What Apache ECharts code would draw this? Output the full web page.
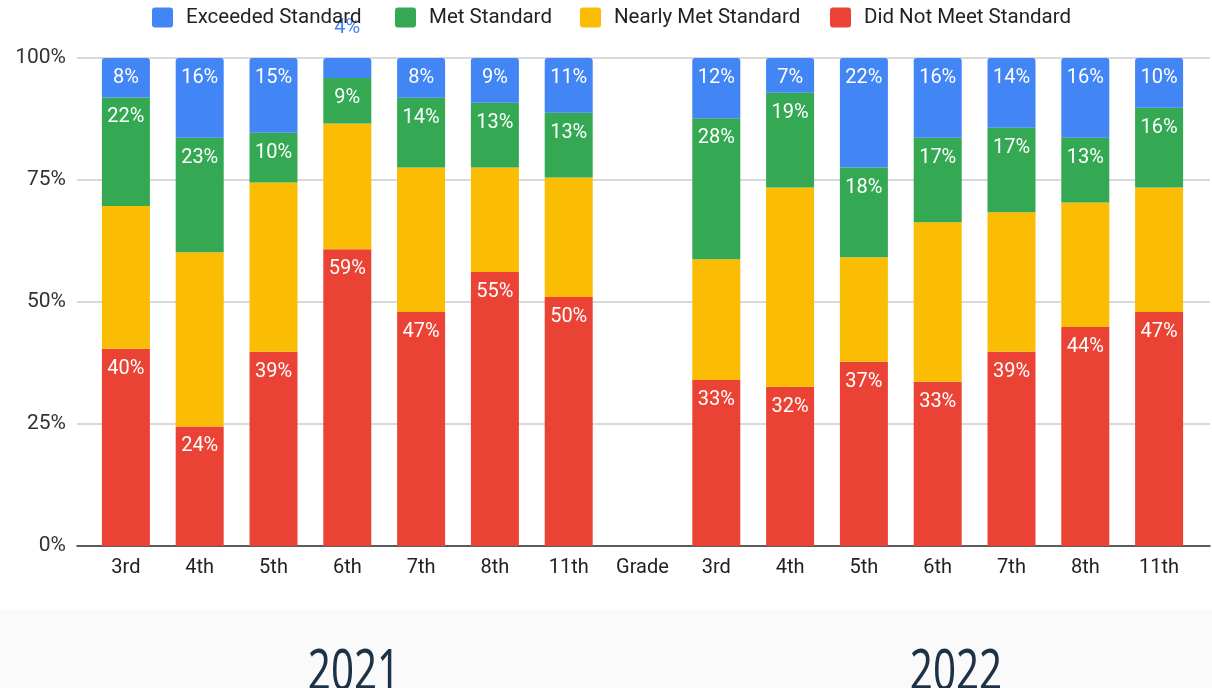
<!DOCTYPE html>
<html>
<head>
<meta charset="utf-8">
<script src="https://cdn.jsdelivr.net/npm/echarts@6/dist/echarts.min.js"></script>
<style>
  html, body { margin: 0; padding: 0; background: #fff; }
  #chart { width: 1212px; height: 688px; }
</style>
</head>
<body>
<div id="chart"></div>
<script>
// grade columns, with an empty "Grade" spacer between the two years
const grades = ["3rd", "4th", "5th", "6th", "7th", "8th", "11th", "Grade", "3rd", "4th", "5th", "6th", "7th", "8th", "11th"]
// raw percentages (Google normalises each column to 100%)
const exceeded = [8, 16, 15, 4, 8, 9, 11, null, 12, 7, 22, 16, 14, 16, 10]
const met = [22, 23, 10, 9, 14, 13, 13, null, 28, 19, 18, 17, 17, 13, 16]
const nearlyMet = [29, 35, 34, 25, 29, 21, 24, null, 24, 40, 21, 32, 28, 25, 25]
const notMet = [40, 24, 39, 59, 47, 55, 50, null, 33, 32, 37, 33, 39, 44, 47]
const yTicks = [0, 25, 50, 75, 100]
const years = ["2021", "2022"]

const colors = {
  exceeded: "#4285f4",
  met: "#34a853",
  nearly: "#fbbc04",
  notMet: "#ea4335"
}

// column totals -> share of 100%
const totals = grades.map((g, i) =>
  exceeded[i] == null ? null : exceeded[i] + met[i] + nearlyMet[i] + notMet[i]
)
function toShare(arr) {
  return arr.map((v, i) => (v == null ? null : { value: (v / totals[i]) * 100, raw: v }))
}

const labelBase = {
  show: true,
  position: "insideTop",
  distance: 10,
  color: "#fff",
  fontFamily: "Roboto",
  fontSize: 20,
  formatter: p => p.data.raw + "%"
}

// the small 4% block does not fit its label, it goes above the bar
const exceededData = toShare(exceeded).map((d, i) => {
  if (d && d.value < 5) {
    d.label = { position: "top", distance: 20, color: colors.exceeded }
  }
  return d
})

const chart = echarts.init(document.getElementById("chart"))

const legendNames = ["Exceeded Standard", "Met Standard", "Nearly Met Standard", "Did Not Meet Standard"]
const legendLeft = [152, 395, 580, 830]
const squareIcon = "path://M3,0H18A3,3 0 0 1 21,3V17A3,3 0 0 1 18,20H3A3,3 0 0 1 0,17V3A3,3 0 0 1 3,0Z"

const option = {
  animation: false,
  legend: legendNames.map((n, i) => ({
    data: [n],
    left: legendLeft[i],
    top: 7,
    padding: 0,
    itemWidth: 21,
    itemHeight: 20,
    icon: squareIcon,
    textStyle: {
      color: "#222",
      fontFamily: "Roboto",
      fontSize: 20.5,
      padding: [0, 0, 0, 8]
    }
  })),
  grid: [
    { left: 89, right: 16, top: 58, bottom: 142 },
    { left: 77, right: 2, top: 58, bottom: 142 }
  ],
  xAxis: [
    {
      type: "category",
      gridIndex: 0,
      data: grades,
      axisLine: { show: false },
      axisTick: { show: false },
      axisLabel: {
        color: "#222",
        fontFamily: "Roboto",
        fontSize: 20,
        margin: 12
      }
    },
    {
      type: "value",
      gridIndex: 1,
      min: 0,
      max: 1,
      axisLine: { show: true, lineStyle: { color: "#333", width: 1.5 } },
      axisTick: { show: false },
      axisLabel: { show: false },
      splitLine: { show: false }
    }
  ],
  yAxis: [
    {
      type: "value",
      gridIndex: 0,
      min: 0,
      max: 100,
      show: false
    },
    {
      type: "value",
      gridIndex: 1,
      min: yTicks[0],
      max: yTicks[yTicks.length - 1],
      interval: 25,
      axisLine: { show: false },
      axisTick: { show: false },
      axisLabel: {
        color: "#333",
        fontFamily: "Roboto",
        fontSize: 21,
        margin: 11,
        formatter: "{value}%"
      },
      splitLine: { lineStyle: { color: "#ccc", width: 1.5 } }
    }
  ],
  graphic: [
    {
      type: "rect",
      shape: { x: 0, y: 609, width: 1212, height: 79 },
      style: { fill: "#fafafa" },
      z: -10
    },
    ...years.map((y, i) => ({
      type: "text",
      x: i === 0 ? 354 : 956,
      y: 674,
      scaleX: 0.72,
      style: {
        text: y,
        fill: "#1e3246",
        fontFamily: "Noto Sans",
        fontSize: 56,
        align: "center",
        verticalAlign: "middle"
      }
    }))
  ],
  series: [
    {
      name: "Did Not Meet Standard",
      type: "bar",
      stack: "total",
      barWidth: 48,
      itemStyle: { color: colors.notMet },
      label: labelBase,
      data: toShare(notMet)
    },
    {
      name: "Nearly Met Standard",
      type: "bar",
      stack: "total",
      barWidth: 48,
      itemStyle: { color: colors.nearly },
      label: { show: false },
      data: toShare(nearlyMet)
    },
    {
      name: "Met Standard",
      type: "bar",
      stack: "total",
      barWidth: 48,
      itemStyle: { color: colors.met },
      label: labelBase,
      data: toShare(met)
    },
    {
      name: "Exceeded Standard",
      type: "bar",
      stack: "total",
      barWidth: 48,
      itemStyle: { color: colors.exceeded, borderRadius: [3, 3, 0, 0] },
      label: labelBase,
      data: exceededData
    }
  ]
}

chart.setOption(option)
</script>
</body>
</html>
